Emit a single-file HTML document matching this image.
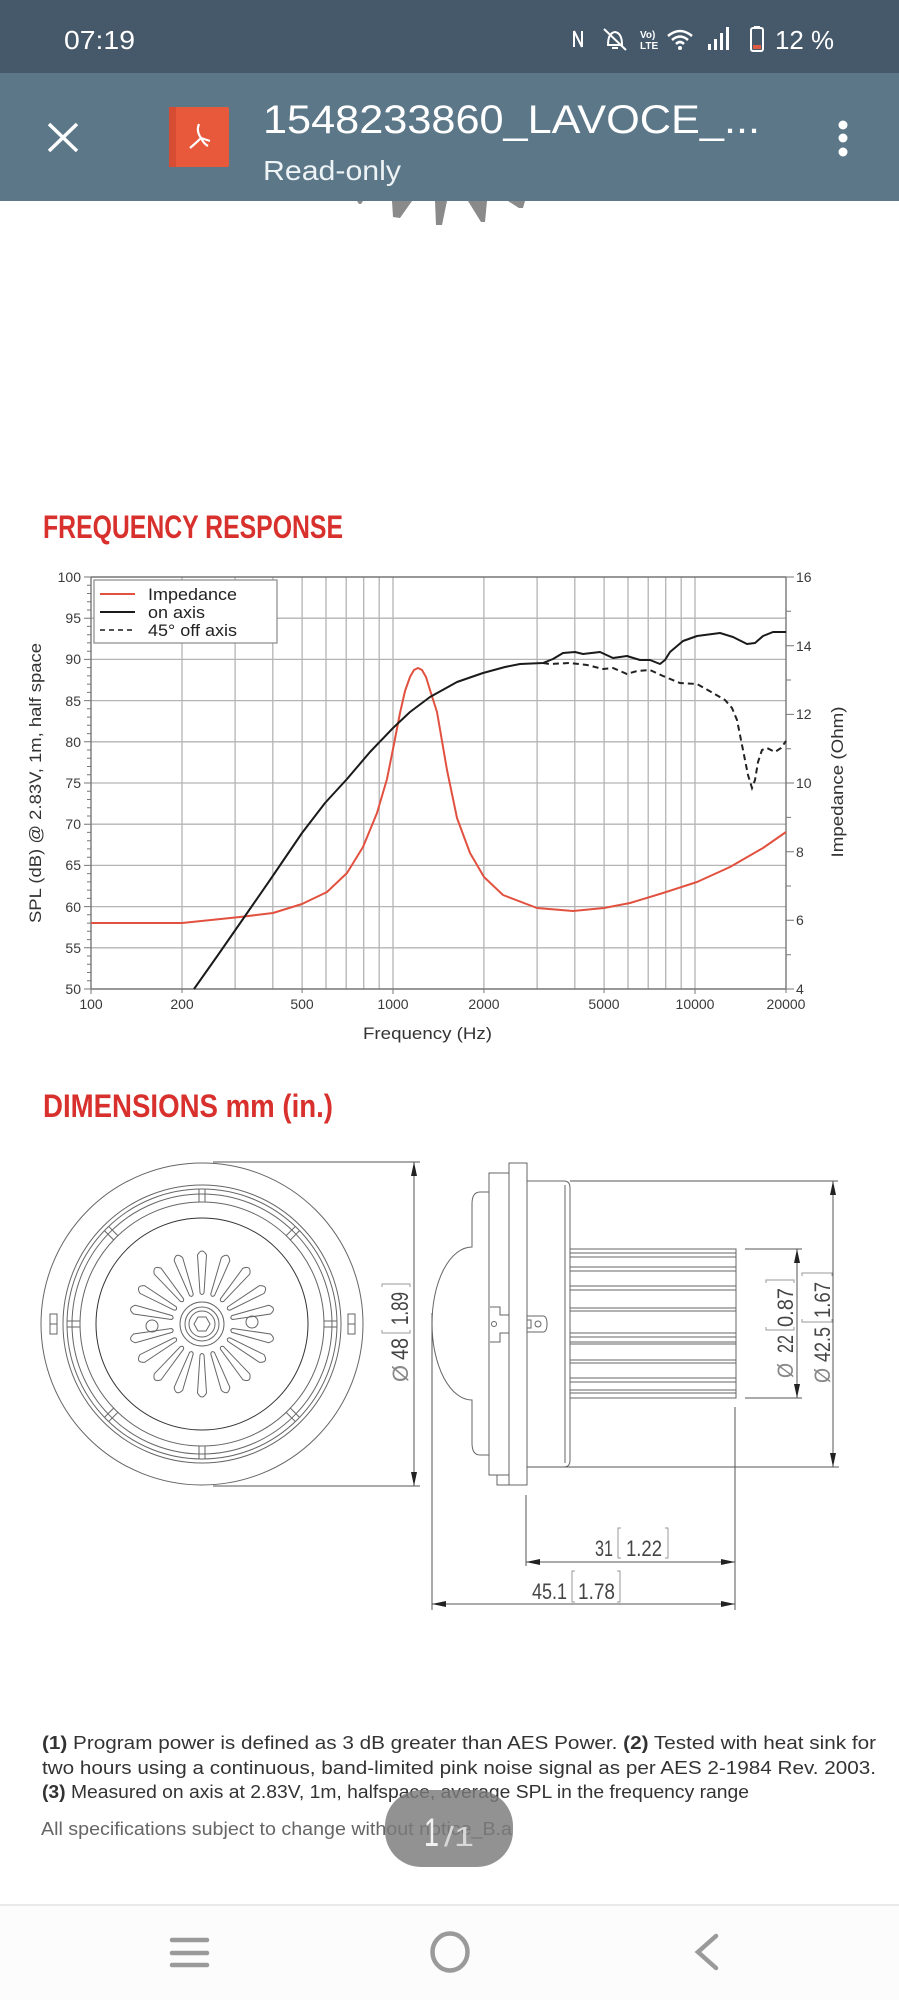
<!DOCTYPE html>
<html><head><meta charset="utf-8"><style>
html,body{margin:0;padding:0;background:#fff;}
svg{display:block;}
text{font-family:"Liberation Sans",sans-serif;}
</style></head><body>
<svg width="899" height="2000" viewBox="0 0 899 2000" xmlns="http://www.w3.org/2000/svg">
<rect x="0" y="0" width="899" height="2000" fill="#fff"/>

<!-- status bar -->
<rect x="0" y="0" width="899" height="73" fill="#46596a"/>
<text x="64" y="49" font-size="26" fill="#fff" textLength="71" lengthAdjust="spacingAndGlyphs">07:19</text>
<path d="M574,31 L574,47 M574,31 L582,47 M582,31 L582,47" stroke="#fff" stroke-width="2" fill="none"/>
<path d="M608,45 Q608,33 615,32 Q622,33 622,45 Z M612,48 L618,48" stroke="#fff" stroke-width="2" fill="none"/>
<line x1="604" y1="29" x2="626" y2="50" stroke="#fff" stroke-width="2"/>
<text x="640" y="38" font-size="10" fill="#fff" font-weight="bold">Vo)</text>
<text x="640" y="49" font-size="10" fill="#fff" font-weight="bold">LTE</text>
<path d="M668,36 Q680,26 692,36 M672,40 Q680,33 688,40 M676,44 Q680,40 684,44" stroke="#fff" stroke-width="2.5" fill="none"/>
<circle cx="680" cy="48" r="2" fill="#fff"/>
<rect x="708" y="44" width="3" height="6" fill="#fff"/>
<rect x="714" y="39" width="3" height="11" fill="#fff"/>
<rect x="720" y="33" width="3" height="17" fill="#fff"/>
<rect x="726" y="27" width="3" height="23" fill="#fff"/>
<rect x="751" y="28" width="12" height="23" rx="2" fill="none" stroke="#fff" stroke-width="2"/>
<rect x="754" y="26" width="6" height="3" fill="#fff"/>
<rect x="753" y="45" width="8" height="4" fill="#e05a40"/>
<text x="775" y="49" font-size="26" fill="#fff" textLength="59" lengthAdjust="spacingAndGlyphs">12 %</text>

<!-- app bar -->
<rect x="0" y="73" width="899" height="128" fill="#5b7788"/>
<path d="M49,124 L77,151 M77,124 L49,151" stroke="#fff" stroke-width="3.5"/>
<rect x="169" y="107" width="60" height="60" rx="2" fill="#e8593b"/>
<rect x="169" y="107" width="7" height="60" fill="#d64d33"/>
<path d="M199,124 Q196,131 201,138 Q204,144 208,146 M201,138 Q196,143 190,148 M201,138 L210,141" stroke="#fff" stroke-width="2.2" fill="none"/>
<text x="263" y="133" font-size="40" fill="#fff" textLength="497" lengthAdjust="spacingAndGlyphs">1548233860_LAVOCE_...</text>
<text x="263" y="180" font-size="28" fill="#eef3f6" textLength="138" lengthAdjust="spacingAndGlyphs">Read-only</text>
<circle cx="843" cy="125" r="4.5" fill="#fff"/>
<circle cx="843" cy="138" r="4.5" fill="#fff"/>
<circle cx="843" cy="152" r="4.5" fill="#fff"/>

<g fill="#8a8a8a">
<polygon points="357,201 363,201 361,204 359,204"/>
<polygon points="392,201 412,201 400,218 393,217"/>
<polygon points="435,201 447,201 442,225 436,225"/>
<polygon points="468,201 487,201 485,222 481,222"/>
<polygon points="508,201 525,201 523,208 519,208"/>
</g>

<text x="43" y="538" font-size="32" font-weight="bold" fill="#d8302c" textLength="300" lengthAdjust="spacingAndGlyphs">FREQUENCY RESPONSE</text>

<g stroke="#b4b4b4" stroke-width="1.3">
<line x1="182" y1="577" x2="182" y2="989"/>
<line x1="235.1" y1="577" x2="235.1" y2="989"/>
<line x1="272.8" y1="577" x2="272.8" y2="989"/>
<line x1="302.1" y1="577" x2="302.1" y2="989"/>
<line x1="326" y1="577" x2="326" y2="989"/>
<line x1="346.2" y1="577" x2="346.2" y2="989"/>
<line x1="363.7" y1="577" x2="363.7" y2="989"/>
<line x1="379.2" y1="577" x2="379.2" y2="989"/>
<line x1="393" y1="577" x2="393" y2="989"/>
<line x1="483.9" y1="577" x2="483.9" y2="989"/>
<line x1="537.1" y1="577" x2="537.1" y2="989"/>
<line x1="574.8" y1="577" x2="574.8" y2="989"/>
<line x1="604.1" y1="577" x2="604.1" y2="989"/>
<line x1="628" y1="577" x2="628" y2="989"/>
<line x1="648.2" y1="577" x2="648.2" y2="989"/>
<line x1="665.7" y1="577" x2="665.7" y2="989"/>
<line x1="681.2" y1="577" x2="681.2" y2="989"/>
<line x1="695" y1="577" x2="695" y2="989"/>
<line x1="91" y1="618.2" x2="786" y2="618.2"/>
<line x1="91" y1="659.4" x2="786" y2="659.4"/>
<line x1="91" y1="700.6" x2="786" y2="700.6"/>
<line x1="91" y1="741.8" x2="786" y2="741.8"/>
<line x1="91" y1="783" x2="786" y2="783"/>
<line x1="91" y1="824.2" x2="786" y2="824.2"/>
<line x1="91" y1="865.4" x2="786" y2="865.4"/>
<line x1="91" y1="906.6" x2="786" y2="906.6"/>
<line x1="91" y1="947.8" x2="786" y2="947.8"/>
</g>
<g stroke="#777" stroke-width="1.4" fill="none">
<line x1="91" y1="577" x2="786" y2="577"/>
<line x1="91" y1="989" x2="786" y2="989"/>
<line x1="91" y1="577" x2="91" y2="989"/>
<line x1="786" y1="577" x2="786" y2="989"/>
</g>
<g stroke="#777" stroke-width="1">
<path d="M84,577H91M84,618.2H91M84,659.4H91M84,700.6H91M84,741.8H91M84,783H91M84,824.2H91M84,865.4H91M84,906.6H91M84,947.8H91M84,989H91"/>
<path d="M87,585.2H91M87,593.5H91M87,601.7H91M87,610H91M87,626.4H91M87,634.7H91M87,642.9H91M87,651.2H91M87,667.6H91M87,675.9H91M87,684.1H91M87,692.4H91M87,708.8H91M87,717.1H91M87,725.3H91M87,733.6H91M87,750H91M87,758.3H91M87,766.5H91M87,774.8H91M87,791.2H91M87,799.5H91M87,807.7H91M87,816H91M87,832.4H91M87,840.7H91M87,848.9H91M87,857.2H91M87,873.6H91M87,881.9H91M87,890.1H91M87,898.4H91M87,914.8H91M87,923.1H91M87,931.3H91M87,939.6H91M87,956H91M87,964.3H91M87,972.5H91M87,980.8H91"/>
<path d="M786,577H794M786,645.7H794M786,714.4H794M786,783H794M786,851.7H794M786,920.3H794M786,989H794"/>
<path d="M786,611.3H791M786,680H791M786,748.7H791M786,817.4H791M786,886H791M786,954.7H791"/>
<path d="M91,989V994M182,989V993M302.1,989V993M393,989V994M483.9,989V993M604.1,989V993M695,989V994M786,989V993"/>
</g>
<g font-size="14" fill="#3a3a3a" text-anchor="end">
<text x="81" y="582">100</text>
<text x="81" y="623">95</text>
<text x="81" y="664">90</text>
<text x="81" y="706">85</text>
<text x="81" y="747">80</text>
<text x="81" y="788">75</text>
<text x="81" y="829">70</text>
<text x="81" y="870">65</text>
<text x="81" y="912">60</text>
<text x="81" y="953">55</text>
<text x="81" y="994">50</text>
</g>
<g font-size="14" fill="#3a3a3a">
<text x="796" y="582">16</text>
<text x="796" y="651">14</text>
<text x="796" y="719">12</text>
<text x="796" y="788">10</text>
<text x="796" y="857">8</text>
<text x="796" y="925">6</text>
<text x="796" y="994">4</text>
</g>
<g font-size="14" fill="#3a3a3a" text-anchor="middle">
<text x="91" y="1009">100</text>
<text x="182" y="1009">200</text>
<text x="302" y="1009">500</text>
<text x="393" y="1009">1000</text>
<text x="484" y="1009">2000</text>
<text x="604" y="1009">5000</text>
<text x="695" y="1009">10000</text>
<text x="786" y="1009">20000</text>
</g>
<text x="363" y="1039" font-size="17" fill="#333" textLength="129" lengthAdjust="spacingAndGlyphs">Frequency (Hz)</text>
<text transform="translate(41,783) rotate(-90)" text-anchor="middle" font-size="17" fill="#333" textLength="280" lengthAdjust="spacingAndGlyphs">SPL (dB) @ 2.83V, 1m, half space</text>
<text transform="translate(843,782) rotate(-90)" text-anchor="middle" font-size="17" fill="#333" textLength="151" lengthAdjust="spacingAndGlyphs">Impedance (Ohm)</text>

<polyline fill="none" stroke="#e2513f" stroke-width="2" stroke-linejoin="round" points="91,923 182,923 240,917 273,913 302,904 327,892 347,873 363,847 377,813 387,779 394,744 400,713 405,691 410,677 414,670 418,668 422,670 426,677 430,690 437,712 447,770 457,818 470,853 484,877 503,895 537,908 573,911 604,908 630,903 663,893 697,882 730,867 763,848 786,832"/>
<polyline fill="none" stroke="#222" stroke-width="2" stroke-dasharray="6 4" points="543,663 550,664 570,663 587,665 603,669 613,668 627,674 637,671 650,670 663,676 680,683 697,684 713,693 725,700 732,708 737,720 743,750 748,775 752,788 755,780 758,762 762,750 767,748 775,752 781,748 786,741"/>
<polyline fill="none" stroke="#1a1a1a" stroke-width="2" stroke-linejoin="round" points="194,989 218,955 243,919 270,880 302,833 325,803 347,779 370,752 393,728 410,712 430,697 457,682 483,673 505,667 520,664 543,663 553,659 563,653 575,652 583,654 600,652 613,658 627,656 640,660 650,660 660,664 665,660 670,652 683,641 697,636 720,633 733,637 747,644 755,643 763,636 773,632 786,632"/>

<rect x="94" y="580" width="183" height="63" fill="#fff" stroke="#888" stroke-width="1.2"/>
<line x1="100" y1="594" x2="135" y2="594" stroke="#e2513f" stroke-width="2"/>
<line x1="100" y1="612" x2="135" y2="612" stroke="#1a1a1a" stroke-width="2"/>
<line x1="100" y1="630" x2="135" y2="630" stroke="#1a1a1a" stroke-width="1.6" stroke-dasharray="5 4"/>
<g font-size="17" fill="#222">
<text x="148" y="600" textLength="89" lengthAdjust="spacingAndGlyphs">Impedance</text>
<text x="148" y="618" textLength="57" lengthAdjust="spacingAndGlyphs">on axis</text>
<text x="148" y="636" textLength="89" lengthAdjust="spacingAndGlyphs">45° off axis</text>
</g>

<text x="43" y="1117" font-size="32" font-weight="bold" fill="#d8302c" textLength="290" lengthAdjust="spacingAndGlyphs">DIMENSIONS mm (in.)</text>

<g fill="none" stroke="#666" stroke-width="1">
<circle cx="202" cy="1324" r="161"/>
<circle cx="202" cy="1324" r="139"/>
<circle cx="202" cy="1324" r="135"/>
<circle cx="202" cy="1324" r="130"/>
<circle cx="202" cy="1324" r="122"/>
<circle cx="202" cy="1324" r="106" stroke="#333"/>
<g id="slot"><line x1="199" y1="1189" x2="199" y2="1202"/><line x1="205" y1="1189" x2="205" y2="1202"/></g>
<use href="#slot" transform="rotate(45 202 1324)"/>
<use href="#slot" transform="rotate(90 202 1324)"/>
<use href="#slot" transform="rotate(135 202 1324)"/>
<use href="#slot" transform="rotate(180 202 1324)"/>
<use href="#slot" transform="rotate(225 202 1324)"/>
<use href="#slot" transform="rotate(270 202 1324)"/>
<use href="#slot" transform="rotate(315 202 1324)"/>
<circle cx="202" cy="1324" r="22"/>
<circle cx="202" cy="1324" r="17"/>
<circle cx="202" cy="1324" r="13"/>
<polygon points="210,1324 206,1331 198,1331 194,1324 198,1317 206,1317"/>
<g id="fin"><path d="M200,1293 L197.5,1255 Q202,1247 206.5,1255 L204,1293 Q202,1296 200,1293 Z"/></g>
<use href="#fin" transform="rotate(20 202 1324)"/>
<use href="#fin" transform="rotate(40 202 1324)"/>
<use href="#fin" transform="rotate(60 202 1324)"/>
<use href="#fin" transform="rotate(78 202 1324)"/>
<use href="#fin" transform="rotate(102 202 1324)"/>
<use href="#fin" transform="rotate(120 202 1324)"/>
<use href="#fin" transform="rotate(140 202 1324)"/>
<use href="#fin" transform="rotate(160 202 1324)"/>
<use href="#fin" transform="rotate(180 202 1324)"/>
<use href="#fin" transform="rotate(200 202 1324)"/>
<use href="#fin" transform="rotate(220 202 1324)"/>
<use href="#fin" transform="rotate(240 202 1324)"/>
<use href="#fin" transform="rotate(258 202 1324)"/>
<use href="#fin" transform="rotate(282 202 1324)"/>
<use href="#fin" transform="rotate(300 202 1324)"/>
<use href="#fin" transform="rotate(320 202 1324)"/>
<use href="#fin" transform="rotate(340 202 1324)"/>
<circle cx="252" cy="1322" r="6"/>
<circle cx="152" cy="1326" r="6"/>
<rect x="50" y="1314" width="7" height="20"/>
<line x1="50" y1="1324" x2="57" y2="1324"/>
<rect x="348" y="1314" width="7" height="20"/>
<line x1="348" y1="1324" x2="355" y2="1324"/>
</g>

<g fill="none" stroke="#666" stroke-width="1">
<path d="M489,1192 L480,1192 Q472,1192 472,1204 L472,1247 A40 76.5 0 0 0 472,1400 L472,1443 Q472,1455 480,1455 L489,1455"/>
<rect x="489" y="1173" width="20" height="302"/>
<rect x="509" y="1163" width="18" height="322"/>
<path d="M527,1181 L564,1181 Q570,1181 570,1188 L570,1460 Q570,1467 564,1467 L527,1467"/>
<line x1="565" y1="1185" x2="565" y2="1463"/>
<rect x="570" y="1249" width="166" height="149"/>
<path d="M570,1253H736M570,1257H736M570,1267H736M570,1271H736M570,1286H736M570,1290H736M570,1308H736M570,1311H736M570,1333H736M570,1337H736M570,1342H736M570,1344H736M570,1360H736M570,1363H736M570,1378H736M570,1382H736M570,1390H736M570,1393H736"/>
<path d="M527,1316 L543,1316 Q547,1316 547,1324 Q547,1332 543,1332 L527,1332"/>
<circle cx="538" cy="1324" r="3"/>
<rect x="527" y="1320" width="4" height="8"/>
<path d="M490,1307 L500,1307 L500,1315 L509,1315 L509,1333 L500,1333 L500,1342 L490,1342"/>
<circle cx="494" cy="1324" r="2.5"/>
<path d="M497,1475 L497,1485 L509,1485"/>
</g>

<g stroke="#555" stroke-width="1" fill="none">
<line x1="213" y1="1162" x2="420" y2="1162"/>
<line x1="213" y1="1486" x2="420" y2="1486"/>
<line x1="414" y1="1162" x2="414" y2="1486"/>
<line x1="570" y1="1181" x2="838" y2="1181"/>
<line x1="527" y1="1467" x2="839" y2="1467"/>
<line x1="833" y1="1181" x2="833" y2="1467"/>
<line x1="745" y1="1249" x2="802" y2="1249"/>
<line x1="745" y1="1398" x2="802" y2="1398"/>
<line x1="797" y1="1249" x2="797" y2="1398"/>
<line x1="432" y1="1313" x2="432" y2="1610"/>
<line x1="526" y1="1495" x2="526" y2="1566"/>
<line x1="735" y1="1407" x2="735" y2="1610"/>
<line x1="526" y1="1562" x2="735" y2="1562"/>
<line x1="432" y1="1604" x2="735" y2="1604"/>
</g>
<g fill="#222">
<polygon points="414,1162 411,1176 417,1176"/>
<polygon points="414,1486 411,1472 417,1472"/>
<polygon points="833,1181 830,1195 836,1195"/>
<polygon points="833,1467 830,1453 836,1453"/>
<polygon points="797,1249 794,1263 800,1263"/>
<polygon points="797,1398 794,1384 800,1384"/>
<polygon points="526,1562 540,1559 540,1565"/>
<polygon points="735,1562 721,1559 721,1565"/>
<polygon points="432,1604 446,1601 446,1607"/>
<polygon points="735,1604 721,1601 721,1607"/>
</g>

<g fill="#444" font-size="22">
<text x="595" y="1556" textLength="18" lengthAdjust="spacingAndGlyphs">31</text>
<text x="626" y="1556" textLength="36" lengthAdjust="spacingAndGlyphs">1.22</text>
<text x="532" y="1599" textLength="35" lengthAdjust="spacingAndGlyphs">45.1</text>
<text x="578" y="1599" textLength="37" lengthAdjust="spacingAndGlyphs">1.78</text>
</g>
<g stroke="#999" stroke-width="1" fill="none">
<path d="M621,1528 L618,1528 L618,1558 L621,1558"/>
<path d="M665,1528 L668,1528 L668,1558 L665,1558"/>
<path d="M575,1571 L572,1571 L572,1602 L575,1602"/>
<path d="M617,1571 L620,1571 L620,1602 L617,1602"/>
</g>
<g transform="translate(408,1332) rotate(-90)">
<text x="-50" y="0" font-size="22" fill="#888" textLength="17" lengthAdjust="spacingAndGlyphs">Ø</text>
<text x="-28" y="0" font-size="24" fill="#444" textLength="22" lengthAdjust="spacingAndGlyphs">48</text>
<text x="7" y="0" font-size="24" fill="#444" textLength="33" lengthAdjust="spacingAndGlyphs">1.89</text>
<path d="M2,-26 L-1,-26 L-1,2 L2,2 M45,-26 L48,-26 L48,2 L45,2" stroke="#999" stroke-width="1" fill="none"/>
</g>
<g transform="translate(793,1332) rotate(-90)">
<text x="-46" y="0" font-size="22" fill="#888" textLength="15" lengthAdjust="spacingAndGlyphs">Ø</text>
<text x="-21" y="0" font-size="22" fill="#444" textLength="18" lengthAdjust="spacingAndGlyphs">22</text>
<text x="5" y="0" font-size="22" fill="#444" textLength="39" lengthAdjust="spacingAndGlyphs">0.87</text>
<path d="M5,-27 L2,-27 L2,1 L5,1 M49,-27 L52,-27 L52,1 L49,1" stroke="#999" stroke-width="1" fill="none"/>
</g>
<g transform="translate(830,1332) rotate(-90)">
<text x="-51" y="0" font-size="22" fill="#888" textLength="15" lengthAdjust="spacingAndGlyphs">Ø</text>
<text x="-30" y="0" font-size="22" fill="#444" textLength="35" lengthAdjust="spacingAndGlyphs">42.5</text>
<text x="14" y="0" font-size="22" fill="#444" textLength="36" lengthAdjust="spacingAndGlyphs">1.67</text>
<path d="M13,-28 L10,-28 L10,2 L13,2 M56,-28 L59,-28 L59,2 L56,2" stroke="#999" stroke-width="1" fill="none"/>
</g>

<g font-size="18" fill="#333">
<text x="42" y="1749" textLength="834" lengthAdjust="spacingAndGlyphs"><tspan font-weight="bold">(1)</tspan> Program power is defined as 3  dB greater than AES Power. <tspan font-weight="bold">(2)</tspan> Tested with heat sink for</text>
<text x="42" y="1774" textLength="834" lengthAdjust="spacingAndGlyphs">two hours using a continuous, band-limited pink noise signal as per AES 2-1984 Rev. 2003.</text>
<text x="42" y="1798" textLength="707" lengthAdjust="spacingAndGlyphs"><tspan font-weight="bold">(3)</tspan> Measured on axis at 2.83V, 1m, halfspace, average SPL in the frequency range</text>
<text x="41" y="1835" fill="#666" textLength="471" lengthAdjust="spacingAndGlyphs">All specifications subject to change without notice_B.a</text>
</g>

<rect x="385" y="1790" width="128" height="77" rx="36" fill="#7a7a7a" fill-opacity="0.82"/>
<text x="424" y="1846" font-size="40" fill="#f2f2f2" textLength="15" lengthAdjust="spacingAndGlyphs">1</text>
<text x="444" y="1846" font-size="28" fill="#d8d8d8" textLength="30" lengthAdjust="spacingAndGlyphs">/1</text>

<rect x="0" y="1905" width="899" height="95" fill="#fcfcfc"/>
<line x1="0" y1="1905" x2="899" y2="1905" stroke="#eaeaea" stroke-width="2"/>
<g stroke="#9a9a9a" stroke-width="4.5" stroke-linecap="round" fill="none">
<line x1="172" y1="1940" x2="207" y2="1940"/>
<line x1="172" y1="1953" x2="207" y2="1953"/>
<line x1="172" y1="1965" x2="207" y2="1965"/>
<ellipse cx="450" cy="1952" rx="17.5" ry="18.5"/>
<polyline points="716,1936 698,1952 716,1968"/>
</g>
</svg>
</body></html>
